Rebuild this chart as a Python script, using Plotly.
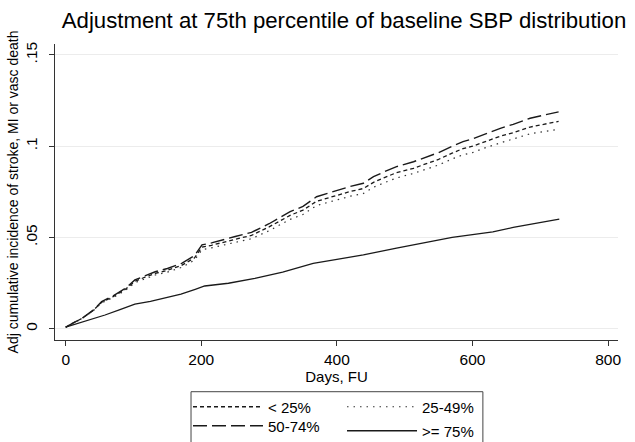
import plotly.graph_objects as go

# ---- data ----
days_upper = [0, 10, 24, 40, 53, 70, 88, 102, 117, 132, 150, 171, 190, 201, 215, 230,
              250, 274, 300, 331, 350, 370, 390, 405, 420, 439, 454, 470, 488, 513,
              527, 550, 570, 586, 600, 620, 641, 660, 685, 705, 727]

q1_lt25 = [0.0008, 0.0030, 0.0056, 0.0098, 0.0145, 0.0176, 0.0216, 0.0260, 0.0282, 0.0303,
           0.0320, 0.0347, 0.0388, 0.0447, 0.0457, 0.0472, 0.0490, 0.0511, 0.0558, 0.0621,
           0.0650, 0.0698, 0.0719, 0.0737, 0.0752, 0.0768, 0.0802, 0.0828, 0.0855, 0.0879,
           0.0898, 0.0928, 0.0962, 0.0987, 0.1000, 0.1028, 0.1055, 0.1074, 0.1105, 0.1120,
           0.1136]

q2_25_49 = [0.0008, 0.0029, 0.0055, 0.0096, 0.0141, 0.0171, 0.0210, 0.0252, 0.0273, 0.0294,
            0.0310, 0.0336, 0.0376, 0.0433, 0.0443, 0.0457, 0.0473, 0.0493, 0.0537, 0.0599,
            0.0626, 0.0675, 0.0695, 0.0712, 0.0726, 0.0741, 0.0775, 0.0800, 0.0826, 0.0851,
            0.0868, 0.0897, 0.0930, 0.0953, 0.0965, 0.0993, 0.1018, 0.1038, 0.1068, 0.1080,
            0.1093]

q3_50_74 = [0.0008, 0.0030, 0.0057, 0.0100, 0.0148, 0.0180, 0.0221, 0.0267, 0.0290, 0.0312,
            0.0330, 0.0358, 0.0400, 0.0459, 0.0470, 0.0486, 0.0505, 0.0528, 0.0575, 0.0641,
            0.0670, 0.0723, 0.0745, 0.0764, 0.0780, 0.0797, 0.0833, 0.0860, 0.0888, 0.0915,
            0.0934, 0.0965, 0.1000, 0.1025, 0.1040, 0.1070, 0.1098, 0.1120, 0.1153, 0.1170,
            0.1188]

days_q4 = [0, 15, 30, 58, 80, 102, 125, 146, 170, 191, 205, 240, 279, 320, 365, 400,
           439, 488, 537, 570, 600, 630, 660, 690, 710, 728]
q4_ge75 = [0.0008, 0.0025, 0.0045, 0.0075, 0.0105, 0.0134, 0.0150, 0.0170, 0.0190, 0.0216,
           0.0234, 0.0249, 0.0276, 0.0310, 0.0358, 0.0380, 0.0404, 0.0441, 0.0477, 0.0500,
           0.0515, 0.0530, 0.0555, 0.0575, 0.0592, 0.0600]

x_ticks = [0, 200, 400, 600, 800]
y_ticks = [0, 0.05, 0.1, 0.15]
y_tick_text = ["0", ".05", ".1", ".15"]

TITLE = "Adjustment at 75th percentile of baseline SBP distribution"
X_TITLE = "Days, FU"
Y_TITLE = "Adj cumulative incidence of stroke, MI or vasc death"

FONT = "Liberation Sans, Arial, sans-serif"
INK = "#1a1a1a"

fig = go.Figure()
fig.add_trace(go.Scatter(x=days_upper, y=q1_lt25, mode="lines", name="< 25%",
                         line=dict(color=INK, width=1.3, dash="4px,3px"), legend="legend"))
fig.add_trace(go.Scatter(x=days_upper, y=q2_25_49, mode="lines", name="25-49%",
                         line=dict(color="#333333", width=1.2, dash="1.5px,5px"), legend="legend2"))
fig.add_trace(go.Scatter(x=days_upper, y=q3_50_74, mode="lines", name="50-74%",
                         line=dict(color=INK, width=1.4, dash="14px,5px"), legend="legend3"))
fig.add_trace(go.Scatter(x=days_q4, y=q4_ge75, mode="lines", name=">= 75%",
                         line=dict(color=INK, width=1.3), legend="legend4"))

# legend frame
fig.add_shape(type="rect", xref="paper", yref="paper", x0=0.2416, x1=0.760, y0=-0.45, y1=-0.1747,
              line=dict(color="#444444", width=1), fillcolor="rgba(0,0,0,0)")

def leg(x, y):
    return dict(x=x, xanchor="left", y=y, yanchor="middle", orientation="v",
                bgcolor="rgba(0,0,0,0)", borderwidth=0, font=dict(size=15, color="black"),
                itemwidth=70, tracegroupgap=0)

col1_x, col2_x = 0.2362, 0.5098

fig.update_layout(
    width=635, height=442,
    margin=dict(l=55, r=17, t=44, b=102, autoexpand=False),
    paper_bgcolor="white", plot_bgcolor="white",
    font=dict(family=FONT, size=15, color="black"),
    title=dict(text=TITLE, x=344 / 635, xanchor="center", xref="container",
               y=1 - 20 / 442, yanchor="middle", yref="container",
               font=dict(size=22.2, color="black")),
    xaxis=dict(range=[-15.8, 814.6], tickvals=x_ticks, showgrid=False, zeroline=False,
               automargin=False,
               showline=True, linecolor="#333333", linewidth=1.3,
               ticks="outside", ticklen=5, tickcolor="#333333", tickwidth=1.3,
               title=dict(text=X_TITLE, standoff=0, font=dict(size=15, color="black")),
               tickfont=dict(size=15.5)),
    yaxis=dict(range=[-0.0062, 0.156], tickvals=y_ticks, ticktext=y_tick_text,
               automargin=False,
               tickangle=-90, showgrid=True, gridcolor="#ececec", gridwidth=1, zeroline=False,
               showline=True, linecolor="#333333", linewidth=1.3,
               ticks="outside", ticklen=5, tickcolor="#333333", tickwidth=1.3,
               ticklabelstandoff=6,
               title=dict(text=Y_TITLE, standoff=0, font=dict(size=14, color="black")),
               tickfont=dict(size=15.5)),
    legend=leg(col1_x, -0.2264),
    legend2=leg(col2_x, -0.2264),
    legend3=leg(col1_x, -0.2905),
    legend4=leg(col2_x, -0.3074),
    showlegend=True,
)

fig.write_html("out.html", config={"displayModeBar": False},
               post_script="document.body.style.margin='0px';")
